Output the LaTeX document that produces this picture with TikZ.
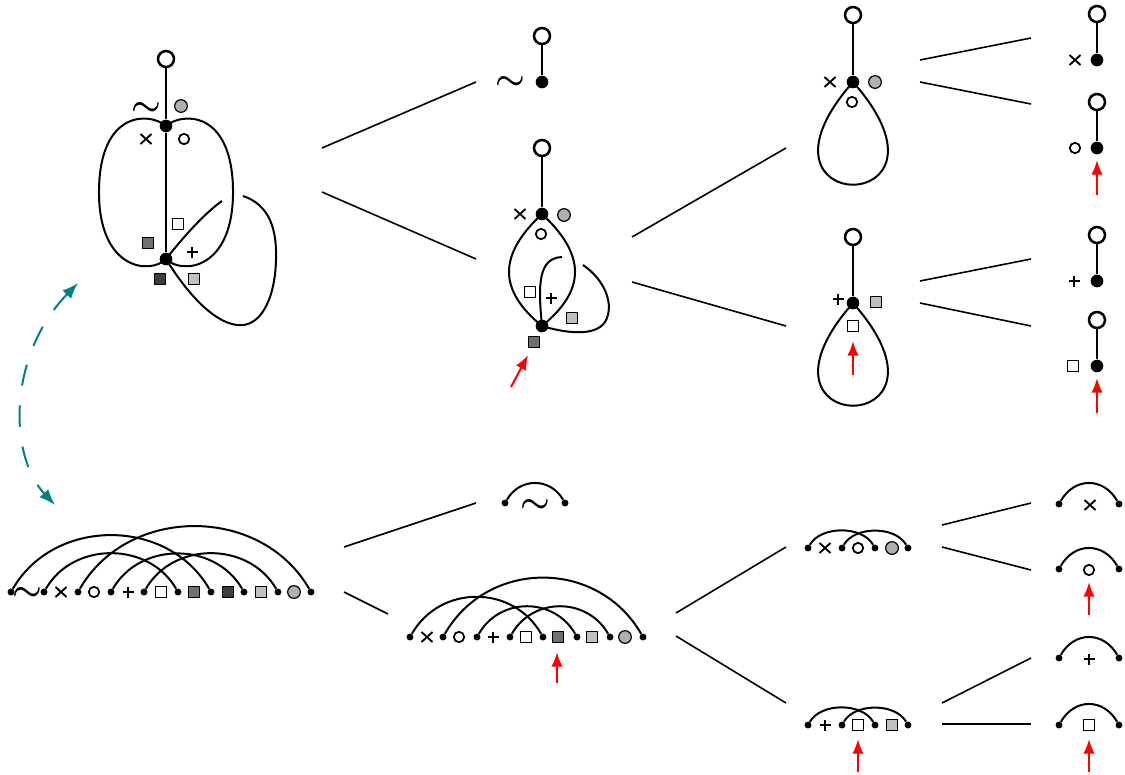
\documentclass[tikz,border=0pt]{standalone}
\usetikzlibrary{arrows.meta}
\definecolor{lgc}{RGB}{176,176,176}
\definecolor{dgs}{RGB}{112,112,112}
\definecolor{vds}{RGB}{60,60,60}
\definecolor{lgs}{RGB}{192,192,192}
\definecolor{tealc}{RGB}{0,128,128}
\tikzset{
 edge/.style={line width=1.5pt},
 conn/.style={line width=1.2pt},
 vtx/.style={circle,fill=black,inner sep=0,minimum size=9.5pt},
 root/.style={circle,draw,line width=1.9pt,fill=white,inner sep=0,minimum size=12pt},
 cdot/.style={circle,fill=black,inner sep=0,minimum size=5.2pt},
 ocir/.style={circle,draw,line width=1.3pt,inner sep=0,minimum size=7.8pt},
 gcir/.style={circle,draw,line width=0.9pt,fill=lgc,inner sep=0,minimum size=9.5pt},
 sqw/.style={draw,line width=1.1pt,fill=white,inner sep=0,minimum size=8.3pt},
 sqd/.style={sqw,fill=dgs},
 sqv/.style={sqw,fill=vds},
 sql/.style={sqw,fill=lgs},
 tld/.style={inner sep=0},
 redarr/.style={draw=red,line width=1.5pt,-{Latex[length=11pt,width=8.5pt]}},
 chord/.style={line width=1.5pt,out=60,in=120,looseness=#1},
 chord/.default=1.1,
 xmark/.pic={\draw[line width=1.4pt] (-5.5,-5)--(5.5,5) (-5.5,5)--(5.5,-5);},
 pmark/.pic={\draw[line width=1.7pt] (-5.5,0)--(5.5,0) (0,-5.5)--(0,5.5);},
}
\newcommand{\tl}{\scalebox{2.5}{\boldmath$\sim$}}
\begin{document}
\begin{tikzpicture}[x=0.75pt,y=0.75pt]
\useasboundingbox (0,0) rectangle (1125,-775);

% ---------- Graph A (top left)
\node[root] (oA) at (166,-59) {};
\node[vtx] (a1) at (166,-126) {};
\node[vtx] (a2) at (166,-259) {};
\draw[edge] (oA) -- (a1) -- (a2);
\draw[edge] (a1.center) .. controls (150,-112) and (100,-110) .. (99,-190) .. controls (98,-270) and (150,-275) .. (a2.center);
\draw[edge] (a1.center) .. controls (182,-112) and (232,-110) .. (233,-190) .. controls (234,-270) and (182,-275) .. (a2.center);
\coordinate (a2h) at (222,-201);
\coordinate (a2k) at (243,-196);
\draw[edge] (a2.center) .. controls (185,-235) and (205,-213) .. (a2h);
\draw[edge] (a2k) .. controls (270,-205) and (277,-230) .. (276,-260) .. controls (275,-300) and (260,-328) .. (237,-325) .. controls (212,-322) and (185,-290) .. (a2.center);
\node[tld] (tA) at (146,-109) {\tl};
\node[gcir] (gA) at (181,-106) {};
\pic at (146,-139) {xmark};
\node[ocir] (ocA) at (184,-139) {};
\node[sqw] (swA) at (178,-224) {};
\node[sqd] (sdA) at (148,-243) {};
\pic at (192,-252) {pmark};
\node[sqv] (svA) at (160,-279) {};
\node[sql] (slA) at (194,-279) {};

% ---------- Graph B
\node[root] (oB) at (542,-36) {};
\node[vtx] (b1) at (542,-82) {};
\draw[edge] (oB) -- (b1);
\node[tld] (tB) at (510,-83) {\tl};

% ---------- Graph C
\node[root] (oC) at (542,-148) {};
\node[vtx] (c1) at (542,-214) {};
\node[vtx] (c2) at (542,-326) {};
\draw[edge] (oC) -- (c1);
\draw[edge] (c1.center) .. controls (498,-255) and (498,-290) .. (c2.center);
\draw[edge] (c1.center) .. controls (586,-255) and (586,-290) .. (c2.center);
\coordinate (c2h) at (562,-257);
\coordinate (c2k) at (583,-265);
\draw[edge] (c2.center) .. controls (538,-285) and (538,-258) .. (c2h);
\draw[edge] (c2k) .. controls (605,-280) and (615,-305) .. (605,-322) .. controls (595,-337) and (565,-333) .. (c2.center);
\pic at (520,-214) {xmark};
\node[gcir] (gC) at (564,-215) {};
\node[ocir] (ocC) at (541,-234) {};
\node[sqw] (swC) at (530,-292) {};
\pic at (551,-298) {pmark};
\node[sql] (slC) at (572,-318) {};
\node[sqd] (sdC) at (534,-342) {};
\coordinate (rC0) at (511,-387);
\coordinate (rC1) at (528,-355);
\draw[redarr] (rC0) -- (rC1);

% ---------- Graph D
\node[root] (oD) at (853,-15) {};
\node[vtx] (d1) at (853,-82) {};
\draw[edge] (oD) -- (d1);
\draw[edge] (d1.center) .. controls (732,-219) and (974,-219) .. (d1.center);
\pic at (830,-82) {xmark};
\node[gcir] (gD) at (875,-82) {};
\node[ocir] (ocD) at (852,-102) {};

% ---------- Graph E
\node[root] (oE) at (853,-237) {};
\node[vtx] (e1) at (853,-303) {};
\draw[edge] (oE) -- (e1);
\draw[edge] (e1.center) .. controls (732,-440) and (974,-440) .. (e1.center);
\pic at (838,-299) {pmark};
\node[sql] (slE) at (876,-302) {};
\node[sqw] (swE) at (853,-326) {};
\coordinate (rE0) at (853,-375);
\coordinate (rE1) at (853,-341);
\draw[redarr] (rE0) -- (rE1);

% ---------- Far right graphs
\node[root] (oF1) at (1097,-14) {};
\node[vtx] (f1) at (1097,-60) {};
\draw[edge] (oF1) -- (f1);
\pic at (1075,-60) {xmark};

\node[root] (oF2) at (1097,-102) {};
\node[vtx] (f2) at (1097,-148) {};
\draw[edge] (oF2) -- (f2);
\node[ocir] (ocF2) at (1075,-148) {};
\coordinate (rF20) at (1097,-195);
\coordinate (rF21) at (1097,-160);
\draw[redarr] (rF20) -- (rF21);

\node[root] (oF3) at (1097,-235) {};
\node[vtx] (f3) at (1097,-281) {};
\draw[edge] (oF3) -- (f3);
\pic at (1074,-281) {pmark};

\node[root] (oF4) at (1097,-320) {};
\node[vtx] (f4) at (1097,-366) {};
\draw[edge] (oF4) -- (f4);
\node[sqw] (swF4) at (1073,-366) {};
\coordinate (rF40) at (1097,-413);
\coordinate (rF41) at (1097,-378);
\draw[redarr] (rF40) -- (rF41);

% ---------- Connectors
\foreach \i/\ax/\ay/\bx/\by in {1/322/148/476/82, 2/322/192/476/259, 3/632/237/786/148, 4/632/282/786/326,
  5/920/60/1031/38, 6/920/82/1031/104, 7/920/281/1031/259, 8/920/303/1031/326,
  9/344/547/476/503, 10/344/592/388/614, 11/676/613/786/547, 12/676/636/786/703,
  13/942/525/1031/503, 14/942/547/1031/570, 15/942/703/1031/658, 16/942/724/1031/724}{
  \coordinate (k\i a) at (\ax,-\ay);
  \coordinate (k\i b) at (\bx,-\by);
  \draw[conn] (k\i a) -- (k\i b);
}

% ---------- Teal dashed arrow
\coordinate (t0) at (78,-283);
\coordinate (t1) at (55,-505);
\draw[tealc,line width=1.5pt,dash pattern=on 16pt off 15pt,{Latex[length=12pt,width=9pt]}-{Latex[length=12pt,width=9pt]}] (t0) .. controls (8,-355) and (8,-455) .. (t1);

% ---------- Chord diagram L (bottom left)
\foreach \n/\x in {1/11,2/44,3/78,4/111,5/144,6/178,7/211,8/244,9/278,10/311}{
  \node[cdot] (p\n) at (\x,-592) {};
}
\draw[chord=1.08] (p1) to (p7);
\draw[chord=1.08] (p2) to (p6);
\draw[chord=1.08] (p3) to (p10);
\draw[chord=1.08] (p4) to (p8);
\draw[chord=1.08] (p5) to (p9);
\node[tld] (tL) at (27.5,-594) {\tl};
\pic at (61,-592) {xmark};
\node[ocir] (ocL) at (94,-592) {};
\pic at (128,-592) {pmark};
\node[sqw] (swL) at (161,-592) {};
\node[sqd] (sdL) at (194,-592) {};
\node[sqv] (svL) at (228,-592) {};
\node[sql] (slL) at (261,-592) {};
\node[gcir] (gL) at (294,-592) {};

% ---------- Chord ~ (bottom middle top)
\node[cdot] (n1) at (505,-503) {};
\node[cdot] (n2) at (565,-503) {};
\draw[chord=1.18] (n1) to (n2);
\node[tld] (tN) at (535,-506) {\tl};

% ---------- Chord diagram M
\foreach \n/\x in {1/410,2/443,3/477,4/510,5/543,6/577,7/610,8/643}{
  \node[cdot] (q\n) at (\x,-637) {};
}
\draw[chord=1.13] (q1) to (q5);
\draw[chord=1.13] (q2) to (q8);
\draw[chord=1.13] (q3) to (q6);
\draw[chord=1.13] (q4) to (q7);
\pic at (427,-637) {xmark};
\node[ocir] (ocM) at (459,-637) {};
\pic at (493,-637) {pmark};
\node[sqw] (swM) at (526,-637) {};
\node[sqd] (sdM) at (558,-637) {};
\node[sql] (slM) at (592,-637) {};
\node[gcir] (gM) at (625,-637) {};
\coordinate (rM0) at (557,-683);
\coordinate (rM1) at (557,-652);
\draw[redarr] (rM0) -- (rM1);

% ---------- Small chords S1, S2
\foreach \n/\x in {1/808,2/842,3/875,4/908}{
  \node[cdot] (s\n) at (\x,-548) {};
  \node[cdot] (u\n) at (\x,-725) {};
}
\draw[chord=0.9] (s1) to (s3);
\draw[chord=0.9] (s2) to (s4);
\draw[chord=0.9] (u1) to (u3);
\draw[chord=0.9] (u2) to (u4);
\pic at (825,-548) {xmark};
\node[ocir] (ocS) at (858,-548) {};
\node[gcir] (gS) at (892,-548) {};
\pic at (825,-725) {pmark};
\node[sqw] (swU) at (858,-725) {};
\node[sql] (slU) at (892,-725) {};
\coordinate (rU0) at (858,-772);
\coordinate (rU1) at (858,-739);
\draw[redarr] (rU0) -- (rU1);

% ---------- Far right chords
\foreach \n/\y in {1/504,2/569,3/658,4/725}{
  \node[cdot] (r\n a) at (1059,-\y) {};
  \node[cdot] (r\n b) at (1119,-\y) {};
  \draw[chord=1.25] (r\n a) to (r\n b);
}
\pic at (1090,-505) {xmark};
\node[ocir] (ocR2) at (1089,-570) {};
\pic at (1089,-659) {pmark};
\node[sqw] (swR4) at (1089,-725) {};
\coordinate (rR20) at (1089,-615);
\coordinate (rR21) at (1089,-582);
\draw[redarr] (rR20) -- (rR21);
\coordinate (rR40) at (1089,-772);
\coordinate (rR41) at (1089,-739);
\draw[redarr] (rR40) -- (rR41);
\end{tikzpicture}
\end{document}
